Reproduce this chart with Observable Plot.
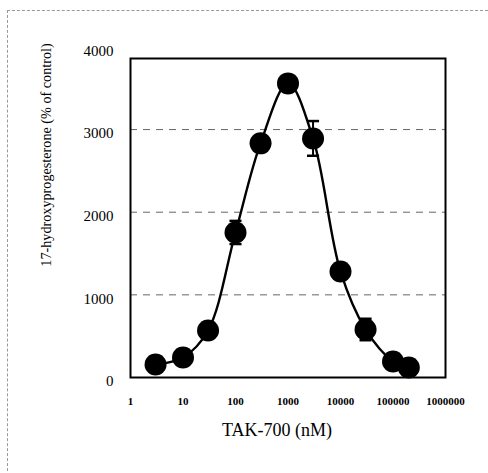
<!DOCTYPE html>
<html><head><meta charset="utf-8">
<script src="https://cdn.jsdelivr.net/npm/d3@7"></script>
<script src="https://cdn.jsdelivr.net/npm/@observablehq/plot@0.6"></script>
<style>
body{margin:0;background:#fff;}
#wrap{position:relative;width:488px;height:473px;overflow:hidden;}
#deco{position:absolute;left:7px;top:10px;width:490px;height:470px;border-top:1px dashed #999;border-left:1px dashed #999;}
#chart{position:absolute;left:0;top:0;}
</style></head>
<body><div id="wrap"><div id="deco"></div><div id="chart"></div></div>
<script>
const conc = [3, 10, 30, 100, 300, 1000, 3000, 10000, 30000, 100000, 200000];
const response = [157, 242, 569, 1755, 2833, 3559, 2893, 1283, 581, 194, 121];
const sem = [30, 30, 50, 140, 40, 70, 210, 40, 130, 40, 30];
const xTicks = [1, 10, 100, 1000, 10000, 100000, 1000000];
const yTicks = [0, 1000, 2000, 3000, 4000];
const gridY = [1000, 2000, 3000];
const xLabel = "TAK-700 (nM)";
const yLabel = "17-hydroxyprogesterone (% of control)";

const data = conc.map((c, i) => ({x: c, y: response[i], lo: response[i] - sem[i], hi: response[i] + sem[i]}));
const capSymbol = {draw(ctx, size){ const w = Math.sqrt(size); ctx.moveTo(-w, 0); ctx.lineTo(w, 0); }};

const chart = Plot.plot({
  width: 488, height: 473,
  marginLeft: 130, marginRight: 43, marginTop: 58, marginBottom: 96,
  style: {fontFamily: "'Liberation Serif', serif", color: "#000", background: "transparent"},
  x: {type: "log", domain: [1, 1000000]},
  y: {domain: [0, 3860]},
  marks: [
    Plot.ruleY(gridY, {stroke: "#666", strokeDasharray: "7,6", strokeWidth: 1}),
    Plot.axisX({ticks: xTicks, tickFormat: d => String(d), tickSize: 0, tickPadding: 20, fontSize: 11, fontWeight: "bold", label: null}),
    Plot.axisY({ticks: yTicks, tickFormat: d => String(d), tickSize: 0, tickPadding: 17, dy: 4, fontSize: 15, letterSpacing: "1.5px", label: null}),
    Plot.text([yLabel], {frameAnchor: "left", textAnchor: "middle", lineAnchor: "middle", dx: -84, dy: -63, rotate: -90, fontSize: 14.2}),
    Plot.text([xLabel], {frameAnchor: "bottom", lineAnchor: "middle", dx: -11, dy: 53, fontSize: 18}),
    Plot.line(data, {x: "x", y: "y", curve: "catmull-rom", stroke: "#000", strokeWidth: 2.4}),
    Plot.link(data, {x1: "x", x2: "x", y1: "lo", y2: "hi", stroke: "#000", strokeWidth: 2}),
    Plot.dot(data, {x: "x", y: "hi", symbol: capSymbol, r: 3.4, stroke: "#000", strokeWidth: 2.5}),
    Plot.dot(data, {x: "x", y: "lo", symbol: capSymbol, r: 3.4, stroke: "#000", strokeWidth: 2.5}),
    Plot.dot(data, {x: "x", y: "y", r: 11, fill: "#000", stroke: "none"}),
    Plot.frame({stroke: "#000", strokeWidth: 2})
  ]
});
document.getElementById("chart").append(chart);
</script></body></html>
